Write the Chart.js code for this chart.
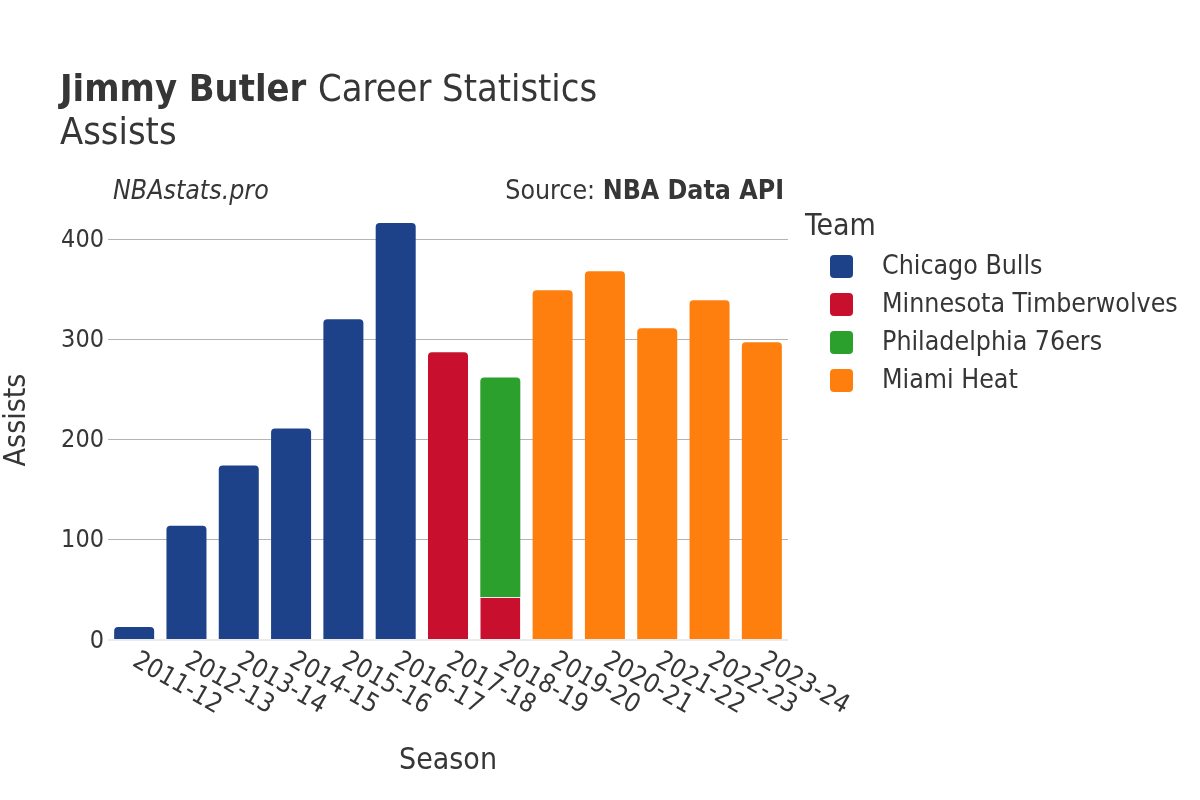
<!DOCTYPE html>
<html>
<head>
<meta charset="utf-8">
<script src="https://cdn.jsdelivr.net/npm/chart.js@4.4.1/dist/chart.umd.min.js"></script>
<style>
  html, body { margin: 0; padding: 0; background: #ffffff; }
  #wrap { width: 1200px; height: 800px; position: relative; }
</style>
</head>
<body>
<div id="wrap"><canvas id="c" width="1200" height="800"></canvas></div>
<script>
// ---- data ----
const seasons = ["2011-12","2012-13","2013-14","2014-15","2015-16","2016-17","2017-18","2018-19","2019-20","2020-21","2021-22","2022-23","2023-24"];
const teams = ["Chicago Bulls","Minnesota Timberwolves","Philadelphia 76ers","Miami Heat"];
const bullsAssists = [13,114,174,211,320,416,null,null,null,null,null,null,null];
const wolvesAssists = [null,null,null,null,null,null,287,43,null,null,null,null,null];
const sixersAssists = [null,null,null,null,null,null,null,219,null,null,null,null,null];
const heatAssists = [null,null,null,null,null,null,null,null,349,368,311,339,297];
const teamColors = ["#1d428a","#c8102e","#2ca02c","#ff7f0e"];
const yTicks = [0,100,200,300,400];
const yMax = 439;

const FONT = '"DejaVu Sans Condensed", "DejaVu Sans", sans-serif';
const TXT = '#363636';

const overlay = {
  id: 'overlay',
  afterDraw(chart) {
    const ctx = chart.ctx;
    const area = chart.chartArea;
    const xs = chart.scales.x, ys = chart.scales.y;
    ctx.save();
    ctx.fillStyle = TXT;
    // Title
    ctx.textBaseline = 'alphabetic';
    ctx.textAlign = 'left';
    ctx.font = 'bold 37.7px ' + FONT;
    const t1 = 'Jimmy Butler';
    ctx.fillText(t1, 60, 101);
    const w1 = ctx.measureText(t1 + ' ').width;
    ctx.font = '37.7px ' + FONT;
    ctx.fillText('Career Statistics', 60 + w1, 101);
    ctx.fillText('Assists', 60, 144);
    // annotations
    ctx.font = 'italic 26.5px ' + FONT;
    ctx.fillText('NBAstats.pro', 113, 199);
    ctx.textAlign = 'right';
    ctx.font = 'bold 26.5px ' + FONT;
    const src = 'NBA Data API';
    ctx.fillText(src, 784, 199);
    const ws = ctx.measureText(src).width;
    ctx.font = '26.5px ' + FONT;
    ctx.fillText('Source: ', 784 - ws, 199);
    // y tick labels
    ctx.font = '25px ' + FONT;
    ctx.textAlign = 'right';
    ctx.textBaseline = 'middle';
    yTicks.forEach(v => {
      ctx.fillText(String(v), area.left - 4, ys.getPixelForValue(v) + 1);
    });
    // x tick labels, rotated 30deg clockwise
    ctx.textAlign = 'left';
    ctx.textBaseline = 'alphabetic';
    ctx.font = '26px ' + FONT;
    seasons.forEach((s, i) => {
      const px = xs.getPixelForValue(i);
      ctx.save();
      ctx.translate(px - 3, area.bottom + 25);
      ctx.rotate(Math.PI / 6);
      ctx.fillText(s, 0, 0);
      ctx.restore();
    });
    // axis titles
    ctx.font = '30px ' + FONT;
    ctx.textAlign = 'center';
    ctx.textBaseline = 'middle';
    ctx.fillText('Season', (area.left + area.right) / 2, 761);
    ctx.save();
    ctx.translate(17, (area.top + area.bottom) / 2);
    ctx.rotate(-Math.PI / 2);
    ctx.fillText('Assists', 0, 0);
    ctx.restore();
    // legend
    ctx.textAlign = 'left';
    ctx.textBaseline = 'middle';
    ctx.font = '30px ' + FONT;
    ctx.fillText('Team', 805, 227);
    ctx.font = '26.5px ' + FONT;
    chart.data.datasets.forEach((ds, i) => {
      const cy = 266 + i * 38;
      ctx.fillStyle = ds.backgroundColor;
      ctx.beginPath();
      if (ctx.roundRect) ctx.roundRect(830, cy - 11, 23, 23, 4); else ctx.rect(830, cy - 11, 23, 23);
      ctx.fill();
      ctx.fillStyle = TXT;
      ctx.fillText(ds.label, 882, cy + 1);
    });
    ctx.restore();
  }
};

const seriesList = [bullsAssists, wolvesAssists, sixersAssists, heatAssists];
const datasets = teams.map((name, i) => ({
  label: name,
  data: seriesList[i],
  backgroundColor: teamColors[i],
  borderColor: 'rgba(235,235,235,1)',
  borderWidth: (c) => (i === 1 && sixersAssists[c.dataIndex] != null) ? {top: 1, left: 0, right: 0, bottom: 0} : 0,
  borderRadius: (c) => (i === 1 && sixersAssists[c.dataIndex] != null) ? 0 : {topLeft: 4, topRight: 4, bottomLeft: 0, bottomRight: 0},
  borderSkipped: 'start',
  barPercentage: 0.765,
  categoryPercentage: 1.0
}));

new Chart(document.getElementById('c'), {
  type: 'bar',
  data: { labels: seasons, datasets },
  options: {
    responsive: false,
    devicePixelRatio: 1,
    animation: false,
    layout: { padding: { left: 108, right: 412, top: 200, bottom: 160 } },
    plugins: { legend: { display: false }, title: { display: false }, tooltip: { enabled: false } },
    scales: {
      x: {
        stacked: true,
        grid: { display: false, drawTicks: false },
        border: { display: false },
        ticks: { display: false }
      },
      y: {
        stacked: true,
        min: 0, max: yMax,
        afterBuildTicks: (scale) => { scale.ticks = yTicks.map(v => ({ value: v })); },
        grid: {
          drawTicks: false,
          color: (c) => c.tick && c.tick.value === 0 ? '#ebebeb' : '#b4b4b4',
          lineWidth: (c) => c.tick && c.tick.value === 0 ? 2 : 1
        },
        border: { display: false },
        ticks: { display: false }
      }
    }
  },
  plugins: [overlay]
});
</script>
</body>
</html>
